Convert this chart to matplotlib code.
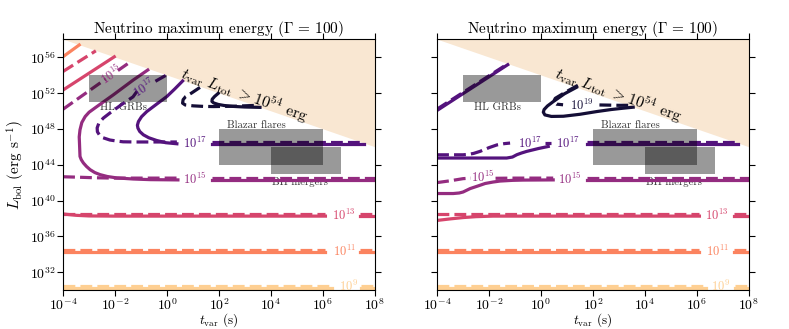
import matplotlib
matplotlib.use("Agg")
import matplotlib.pyplot as plt
import numpy as np

plt.rcParams.update({
    'font.family': 'serif',
    'font.serif': ['cmr10', 'DejaVu Serif'],
    'mathtext.fontset': 'cm',
    'axes.formatter.use_mathtext': True,
    'axes.unicode_minus': False,
})

# ---------------- data (log10 t_var [s], log10 L [erg/s]) ----------------
energy_exp = [9, 11, 13, 15, 17, 19]
energy_cpos = [0.90, 0.74, 0.58, 0.42, 0.26, 0.10]   # position in magma colormap

x_ticks = [1e-4, 1e-2, 1e0, 1e2, 1e4, 1e6, 1e8]
y_ticks = [1e32, 1e36, 1e40, 1e44, 1e48, 1e52, 1e56]

boundary_t = [1e-4, 1e8]
boundary_L = [1e58, 1e46]

box_names = ["HL GRBs", "Blazar flares", "BH mergers"]
box_t = [(1e-3, 1e0), (1e2, 1e6), (1e4, 5e6)]
box_L = [(1e51, 1e54), (1e44, 1e48), (1e43, 1e46)]
box_label_logt = [-1.68, 3.43, 5.12]
box_label_logL = [50.35, 48.37, 42.03]

# plateau levels (solid, dashed) for horizontal contours
plateau_solid = {9: 30.22, 11: 34.26, 13: 38.26, 15: 42.30, 17: 46.33}
plateau_dashed = {9: 30.42, 11: 34.46, 13: 38.46, 15: 42.50, 17: 46.53}

# ---- left panel curves: lists of segments (logt list, logL list) ----
left_e11_solid = [([-4.0, -3.38], [56.05, 57.35])]
left_e13_dashed = [([-4.0, -2.74], [54.40, 56.70]),
                   ([-4.0, 6.1], [38.46, 38.46]), ([7.45, 8.0], [38.46, 38.46])]
left_e13_solid = [([-4.0, -2.03], [52.33, 56.03]),
                  ([-4.0, -3.5, -3.0, -2.0, 6.1], [38.50, 38.35, 38.28, 38.26, 38.26]),
                  ([7.45, 8.0], [38.26, 38.26])]
left_e15_dashed = [([-4.0, -2.36], [50.19, 53.55]),
                   ([-1.89, -1.42], [54.50, 55.45]),
                   ([-4.0, -3.4, -2.8, -2.0, 0.42], [42.65, 42.60, 42.54, 42.50, 42.50]),
                   ([1.73, 8.0], [42.50, 42.50])]
left_e15_solid = [([-0.74, -1.30, -2.07, -2.70, -3.00, -3.15, -3.28, -3.35, -3.38, -3.37,
                    -3.35, -3.30, -3.22, -3.10, -2.96, -2.78, -2.58, -2.30, -1.93, -1.30, -0.65, 0.42],
                   [54.56, 53.44, 51.78, 50.48, 49.85, 49.37, 48.70, 47.89, 47.10, 46.41,
                    44.92, 44.55, 44.19, 43.80, 43.44, 43.12, 42.89, 42.68, 42.52, 42.40, 42.33, 42.30]),
                  ([1.73, 8.0], [42.30, 42.30])]
left_e17_dashed = [([-0.05, -0.60], [53.95, 53.05]),
                   ([-1.15, -1.31, -1.80, -2.19, -2.45, -2.62, -2.69, -2.68, -2.60, -2.46, -2.20,
                     -1.90, -1.69, -1.20, -0.40, 0.38],
                    [52.20, 51.56, 50.60, 49.78, 49.20, 48.67, 48.10, 47.67, 47.30, 47.00, 46.75,
                     46.62, 46.55, 46.53, 46.53, 46.53]),
                   ([1.73, 7.55], [46.53, 46.53])]
left_e17_solid = [([0.60, 0.30, -0.01, -0.40, -0.78, -0.98, -1.10, -1.14, -1.12, -1.05, -0.91,
                    -0.70, -0.40, -0.05, 0.38],
                   [53.33, 52.45, 51.59, 50.75, 49.92, 49.35, 48.81, 48.40, 48.08, 47.70, 47.33,
                    47.00, 46.70, 46.45, 46.33]),
                  ([1.73, 7.60], [46.33, 46.33])]
left_e19_dashed = [([1.27, 0.95, 0.72, 0.62, 0.60, 0.70, 1.01, 1.40, 1.78, 2.60, 3.50],
                    [52.62, 52.00, 51.60, 51.25, 50.86, 50.66, 50.56, 50.50, 50.48, 50.52, 50.62])]
left_e19_solid = [([1.97, 1.83, 1.74, 1.73, 1.80, 1.97, 2.20, 2.54, 3.00, 3.58],
                   [51.95, 51.60, 51.30, 51.05, 50.88, 50.72, 50.60, 50.50, 50.43, 50.39])]

left_labels = [  # (exp, logt, logL, rotation)
    (15, -2.12, 54.05, 35), (17, -0.87, 52.50, 33),
    (17, 1.08, 46.40, 0), (15, 1.08, 42.38, 0),
    (13, 6.82, 38.32, 0), (11, 6.82, 34.34, 0), (9, 6.98, 30.38, 0)]

# ---- right panel curves ----
right_e17_solid = [([-4.0, -1.28], [50.05, 55.15]),
                   ([-4.0, -2.5, -1.32, -1.10, -0.93, -0.75, -0.55, -0.10, 0.28],
                    [44.74, 44.74, 44.74, 44.85, 45.11, 45.30, 45.48, 45.80, 46.03]),
                   ([1.76, 7.60], [46.33, 46.33])]
right_e17_dashed = [([-4.0, -1.28], [50.20, 55.25]),
                    ([-4.0, -3.0, -2.80, -2.60, -2.35, -2.00, -1.70, -1.40, -1.19],
                     [45.10, 45.10, 45.15, 45.25, 45.48, 45.90, 46.20, 46.35, 46.41]),
                    ([0.15, 0.40], [46.42, 46.42]),
                    ([1.76, 7.55], [46.53, 46.53])]
right_e15_solid = [([-4.0, -3.38, -3.15, -3.00, -2.73, -2.40, -2.15, -1.85, -1.58, -1.10, -0.69, 0.47],
                    [40.78, 40.78, 40.84, 40.95, 41.33, 41.65, 41.90, 42.06, 42.17, 42.25, 42.28, 42.30]),
                   ([1.76, 8.0], [42.30, 42.30])]
right_e15_dashed = [([-4.0, -3.5, -3.0, -2.70], [42.00, 42.20, 42.44, 42.50]),
                    ([-1.75, -1.0, 0.47], [42.48, 42.50, 42.50]),
                    ([1.76, 8.0], [42.50, 42.50])]
right_e13_solid = [([-4.0, -3.5, -3.0, -2.5, -1.85, 6.1], [37.78, 37.95, 38.10, 38.20, 38.26, 38.26]),
                   ([7.45, 8.0], [38.26, 38.26])]
right_e13_dashed = [([-4.0, 6.1], [38.46, 38.46]), ([7.45, 8.0], [38.46, 38.46])]
right_e19_solid = [([1.37, 0.90, 0.47, 0.25, 0.12, 0.09, 0.15, 0.40, 0.86, 1.50, 2.14, 2.70, 3.17, 3.55],
                    [52.63, 51.90, 51.03, 50.55, 50.15, 49.85, 49.55, 49.38, 49.40, 49.62, 49.92, 50.15, 50.30, 50.41])]
right_e19_dashed = [([1.42, 0.95, 0.55, 0.48, 0.60, 0.85], [52.85, 52.10, 51.40, 51.00, 50.75, 50.68]),
                    ([2.25, 3.00, 3.55], [50.66, 50.62, 50.62])]

right_labels = [
    (19, 1.55, 50.65, 0),
    (17, -0.42, 46.42, 0), (17, 1.04, 46.38, 0),
    (15, -2.25, 42.62, 0), (15, 1.12, 42.36, 0),
    (13, 6.78, 38.32, 0), (11, 6.78, 34.34, 0), (9, 6.90, 30.38, 0)]

# plateau curves common to both panels (gaps for labels)
plateau_gap = {9: (6.35, 7.48), 11: (6.1, 7.45)}

# ---------------- drawing ----------------
cmap = plt.get_cmap('magma')
color_of = {e: cmap(p) for e, p in zip(energy_exp, energy_cpos)}
LW = 2.3

fig = plt.figure(figsize=(7.89, 3.29), dpi=100)
ax1 = fig.add_axes([0.080, 0.118, 0.395, 0.763])
ax2 = fig.add_axes([0.554, 0.118, 0.395, 0.763])


def draw_segments(ax, segs, e, ls):
    for t, L in segs:
        ax.plot(10 ** np.array(t), 10 ** np.array(L), color=color_of[e], lw=LW, ls=ls,
                zorder=2)


def draw_plateaus(ax):
    for e in (9, 11):
        g0, g1 = plateau_gap[e]
        for lev, ls in ((plateau_solid[e], '-'), (plateau_dashed[e], '--')):
            for a, b in ((-4.0, g0), (g1, 8.0)):
                ax.plot([10 ** a, 10 ** b], [10 ** lev, 10 ** lev], color=color_of[e],
                        lw=LW, ls=ls, zorder=2)


def draw_labels(ax, labels):
    for e, lt, lL, rot in labels:
        ax.text(10 ** lt, 10 ** lL, r'$\mathbf{10^{%d}}$' % e, color=color_of[e], fontsize=9,
                ha='center', va='center', rotation=rot, rotation_mode='anchor', zorder=4)


for ax in (ax1, ax2):
    ax.set_xscale('log')
    ax.set_yscale('log')
    ax.set_xlim(1e-4, 1e8)
    ax.set_ylim(1e30, 1e58)
    ax.fill_between(boundary_t, boundary_L, [1e58, 1e58], color='#f9e7d2', lw=0, zorder=1)
    for (t0, t1), (L0, L1) in zip(box_t, box_L):
        ax.fill([t0, t1, t1, t0], [L0, L0, L1, L1], color='k', alpha=0.4, lw=0, zorder=3)
    for name, lt, lL in zip(box_names, box_label_logt, box_label_logL):
        ax.text(10 ** lt, 10 ** lL, name, fontsize=7.8, color='#333333', ha='center',
                va='center', zorder=1.5)
    ax.text(10 ** 2.98, 10 ** 51.75, r'$t_{\rm var}\ L_{\rm tot}\ >10^{54}$ erg', fontsize=11.5,
            rotation=-19.2, ha='center', va='center', rotation_mode='anchor', zorder=4)
    draw_plateaus(ax)
    ax.set_xticks(x_ticks)
    ax.set_yticks(y_ticks)
    ax.minorticks_off()
    ax.tick_params(which='both', direction='out', top=True, right=True, length=4,
                   labelsize=10, pad=1)
    ax.set_title(r'Neutrino maximum energy ($\Gamma\,=\,100$)', fontsize=11, pad=4)
    ax.set_xlabel(r'$t_{\rm var}$ (s)', fontsize=9.5)
    ax.xaxis.set_label_coords(0.5, -0.083)

# left panel
draw_segments(ax1, left_e11_solid, 11, '-')
draw_segments(ax1, left_e13_solid, 13, '-')
draw_segments(ax1, left_e13_dashed, 13, '--')
draw_segments(ax1, left_e15_solid, 15, '-')
draw_segments(ax1, left_e15_dashed, 15, '--')
draw_segments(ax1, left_e17_solid, 17, '-')
draw_segments(ax1, left_e17_dashed, 17, '--')
draw_segments(ax1, left_e19_solid, 19, '-')
draw_segments(ax1, left_e19_dashed, 19, '--')
draw_labels(ax1, left_labels)
ax1.set_ylabel(r'$L_{\rm bol}$ (erg s$^{-1}$)', fontsize=11, labelpad=2)

# right panel
draw_segments(ax2, right_e13_solid, 13, '-')
draw_segments(ax2, right_e13_dashed, 13, '--')
draw_segments(ax2, right_e15_solid, 15, '-')
draw_segments(ax2, right_e15_dashed, 15, '--')
draw_segments(ax2, right_e17_solid, 17, '-')
draw_segments(ax2, right_e17_dashed, 17, '--')
draw_segments(ax2, right_e19_solid, 19, '-')
draw_segments(ax2, right_e19_dashed, 19, '--')
draw_labels(ax2, right_labels)
ax2.tick_params(labelleft=False)

fig.savefig('out.png', dpi=100)
